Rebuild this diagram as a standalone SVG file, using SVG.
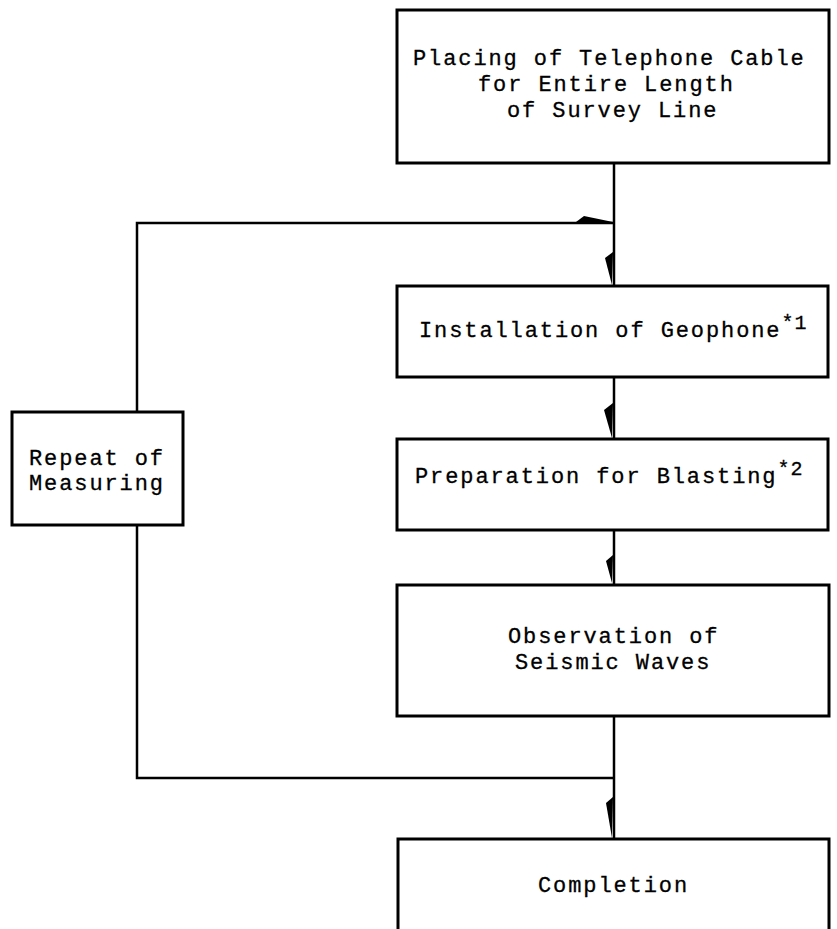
<svg xmlns="http://www.w3.org/2000/svg" width="837" height="929" viewBox="0 0 837 929">
<style>
.box{fill:none;stroke:#000;stroke-width:3}
.ln{fill:none;stroke:#000;stroke-width:2.5}
.ah{fill:#000;stroke:none}
text{font-family:"Liberation Mono","Courier New",monospace;font-size:22px;letter-spacing:1.9px;fill:#000;stroke:#000;stroke-width:0.3}
.sup{font-size:20px;letter-spacing:1px}
</style>
<rect width="837" height="929" fill="#fff"/>
<g id="connectors">
<line class="ln" x1="614" y1="163" x2="614" y2="286"/>
<line class="ln" x1="614" y1="377" x2="614" y2="439"/>
<line class="ln" x1="614" y1="530" x2="614" y2="585"/>
<line class="ln" x1="614" y1="716" x2="614" y2="839"/>
<polyline class="ln" points="614,778 137,778 137,525"/>
<polyline class="ln" points="137,412 137,223 614,223"/>
<polygon class="ah" points="576,222 584,216 613,222"/>
<polygon class="ah" points="613,252 605,258 612,285"/>
<polygon class="ah" points="613,403 604,410 612,438"/>
<polygon class="ah" points="613,555 606,561 612,583"/>
<polygon class="ah" points="613,797 606,803 612,838"/>
</g>
<g id="n1">
<rect class="box" x="397" y="10" width="432" height="153"/>
<text x="413" y="65">Placing of Telephone Cable</text>
<text x="478" y="91">for Entire Length</text>
<text x="507" y="117">of Survey Line</text>
</g>
<g id="n2">
<rect class="box" x="397" y="286" width="431" height="91"/>
<text x="419" y="337">Installation of Geophone<tspan class="sup" dy="-8">*1</tspan></text>
</g>
<g id="n3">
<rect class="box" x="397" y="439" width="431" height="91"/>
<text x="415" y="483">Preparation for Blasting<tspan class="sup" dy="-8">*2</tspan></text>
</g>
<g id="n4">
<rect class="box" x="397" y="585" width="432" height="131"/>
<text x="508" y="643">Observation of</text>
<text x="515" y="669">Seismic Waves</text>
</g>
<g id="n5">
<polyline class="box" points="398,935 398,839 829,839 829,935"/>
<text x="538" y="892">Completion</text>
</g>
<g id="n6">
<rect class="box" x="12" y="412" width="171" height="113"/>
<text x="29" y="465">Repeat of</text>
<text x="29" y="490">Measuring</text>
</g>
</svg>
